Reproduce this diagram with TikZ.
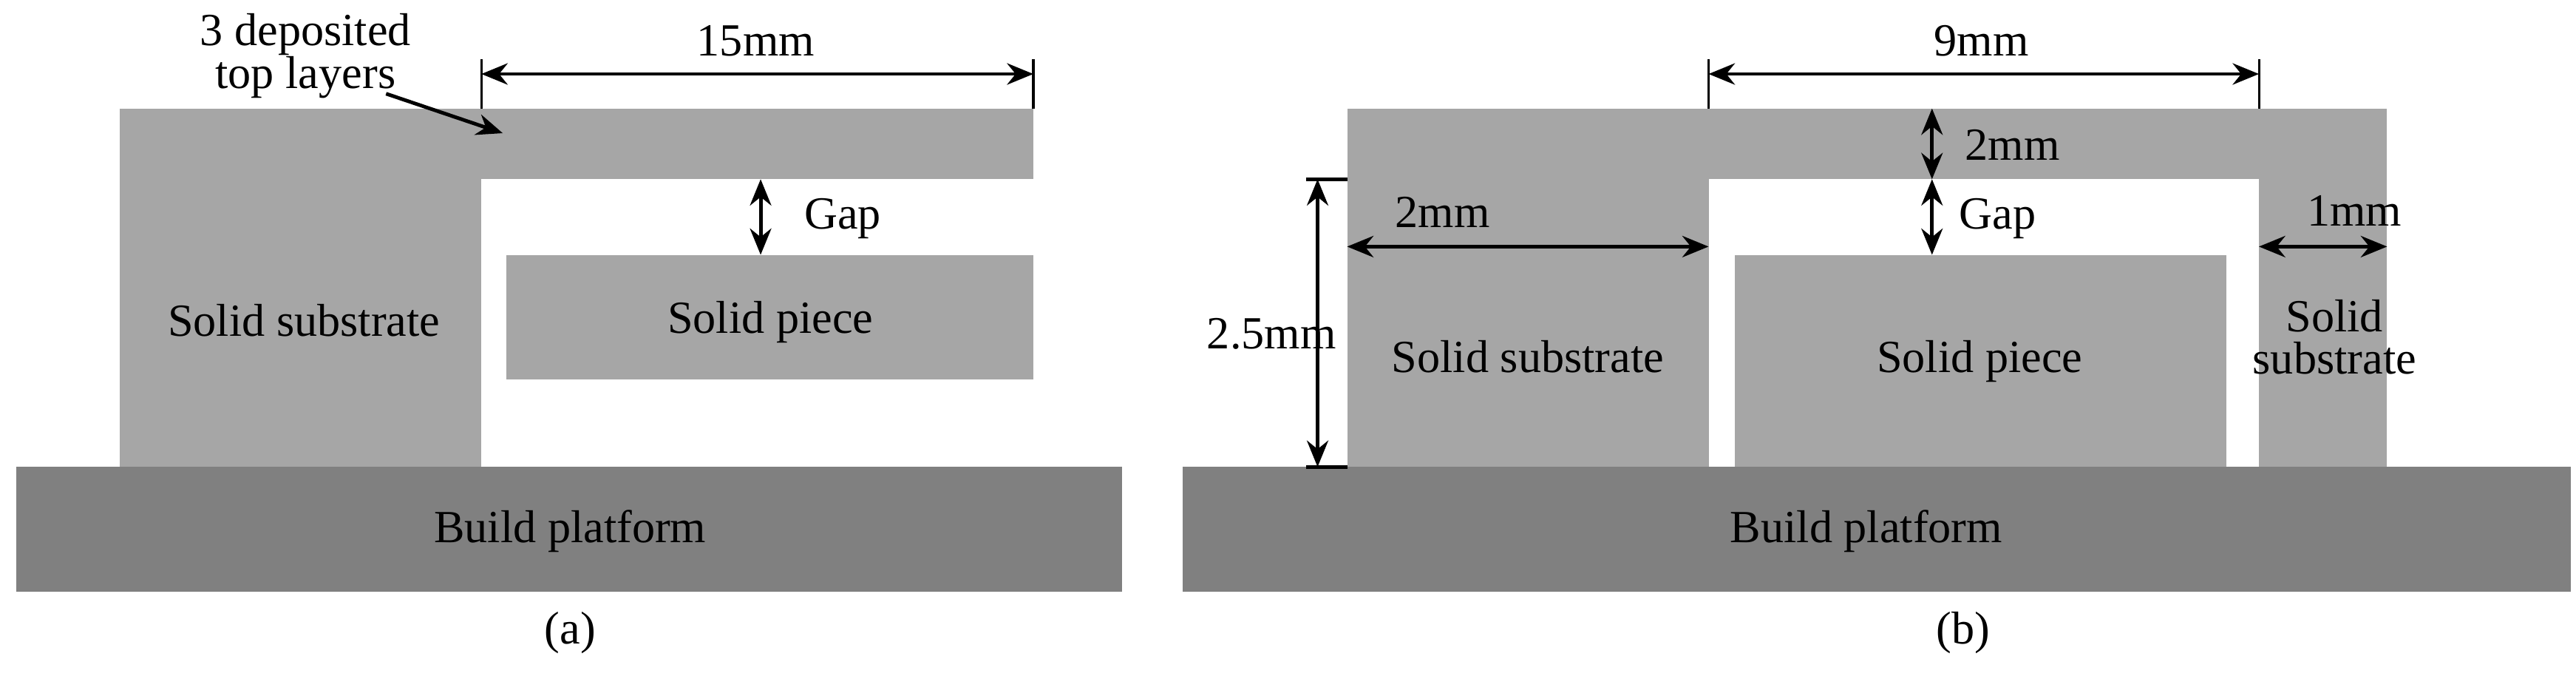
\documentclass[tikz,border=0pt]{standalone}
\usepackage{fontspec}
\setmainfont{Liberation Serif}
\usetikzlibrary{arrows.meta}
\begin{document}
\begin{tikzpicture}[x=1pt,y=-1pt,
  lt/.style={fill=black!35,draw=none},
  dk/.style={fill=black!50,draw=none},
  lbl/.style={font=\fontsize{28}{30}\selectfont,inner sep=0pt,align=center},
  dim/.style={line width=2.2pt,{Stealth[length=16pt,width=13pt]}-{Stealth[length=16pt,width=13pt]}},
  ext/.style={line width=1.4pt}]
\useasboundingbox (0,0) rectangle (1568,413);
% (a)
\fill[dk] (10,284) rectangle (683,360);
\fill[lt] (73,66) rectangle (293,284);
\fill[lt] (73,66) rectangle (629,109);
\fill[lt] (308,155) rectangle (629,231);
\node[lbl] (pa) at (347,323) {Build platform};
\node[lbl] (sa) at (185,195) {Solid substrate};
\node[lbl] (pia) at (469,196) {Solid piece};
\node[lbl] (ca) at (347,385) {(a)};
\node[lbl,font=\fontsize{28}{26}\selectfont] (tl) at (186,34) {3 deposited\\top layers};
\coordinate (tls) at (235,57);
\coordinate (tlt) at (306,81);
\draw[line width=2.2pt,-{Stealth[length=16pt,width=13pt]}] (tls) -- (tlt);
\coordinate (a1) at (293,45); \coordinate (a2) at (629,45);
\draw[ext] (293,36) -- (293,66); \draw[ext] (629,36) -- (629,66);
\draw[dim] (a1) -- (a2);
\node[lbl] (d15) at (460,25) {15mm};
\coordinate (g1) at (463,109); \coordinate (g2) at (463,155);
\draw[dim] (g1) -- (g2);
\node[lbl] (ga) at (513,133) {Gap};
% (b)
\fill[dk] (720,284) rectangle (1565,360);
\fill[lt] (820,66) rectangle (1040,284);
\fill[lt] (820,66) rectangle (1453,109);
\fill[lt] (1375,66) rectangle (1453,284);
\fill[lt] (1056,155) rectangle (1355,284);
\node[lbl] (pb) at (1136,323) {Build platform};
\node[lbl] (sb) at (930,217) {Solid substrate};
\node[lbl] (pib) at (1205,220) {Solid piece};
\node[lbl,font=\fontsize{28}{26}\selectfont] (sc) at (1421,205) {Solid\\substrate};
\node[lbl] (cb) at (1195,385) {(b)};
\draw[ext] (1040,36) -- (1040,66); \draw[ext] (1375,36) -- (1375,66);
\coordinate (b1) at (1040,45); \coordinate (b2) at (1375,45);
\draw[dim] (b1) -- (b2);
\node[lbl] (d9) at (1206,25) {9mm};
\coordinate (t1) at (1176,66); \coordinate (t2) at (1176,109); \coordinate (t3) at (1176,155);
\draw[dim] (t1) -- (t2);
\draw[dim] (t2) -- (t3);
\node[lbl] (d2v) at (1225,88) {2mm};
\node[lbl] (gb) at (1216,133) {Gap};
\coordinate (h1) at (820,150); \coordinate (h2) at (1040,150);
\draw[dim] (h1) -- (h2);
\node[lbl] (d2h) at (878,129) {2mm};
\coordinate (r1) at (1375,150); \coordinate (r2) at (1453,150);
\draw[dim] (r1) -- (r2);
\node[lbl] (d1) at (1433,128) {1mm};
\draw[line width=2.2pt] (795,109) -- (820,109); \draw[line width=2.2pt] (795,284) -- (820,284);
\coordinate (v1) at (802,109); \coordinate (v2) at (802,284);
\draw[dim] (v1) -- (v2);
\node[lbl] (d25) at (774,203) {2.5mm};
\end{tikzpicture}
\end{document}
